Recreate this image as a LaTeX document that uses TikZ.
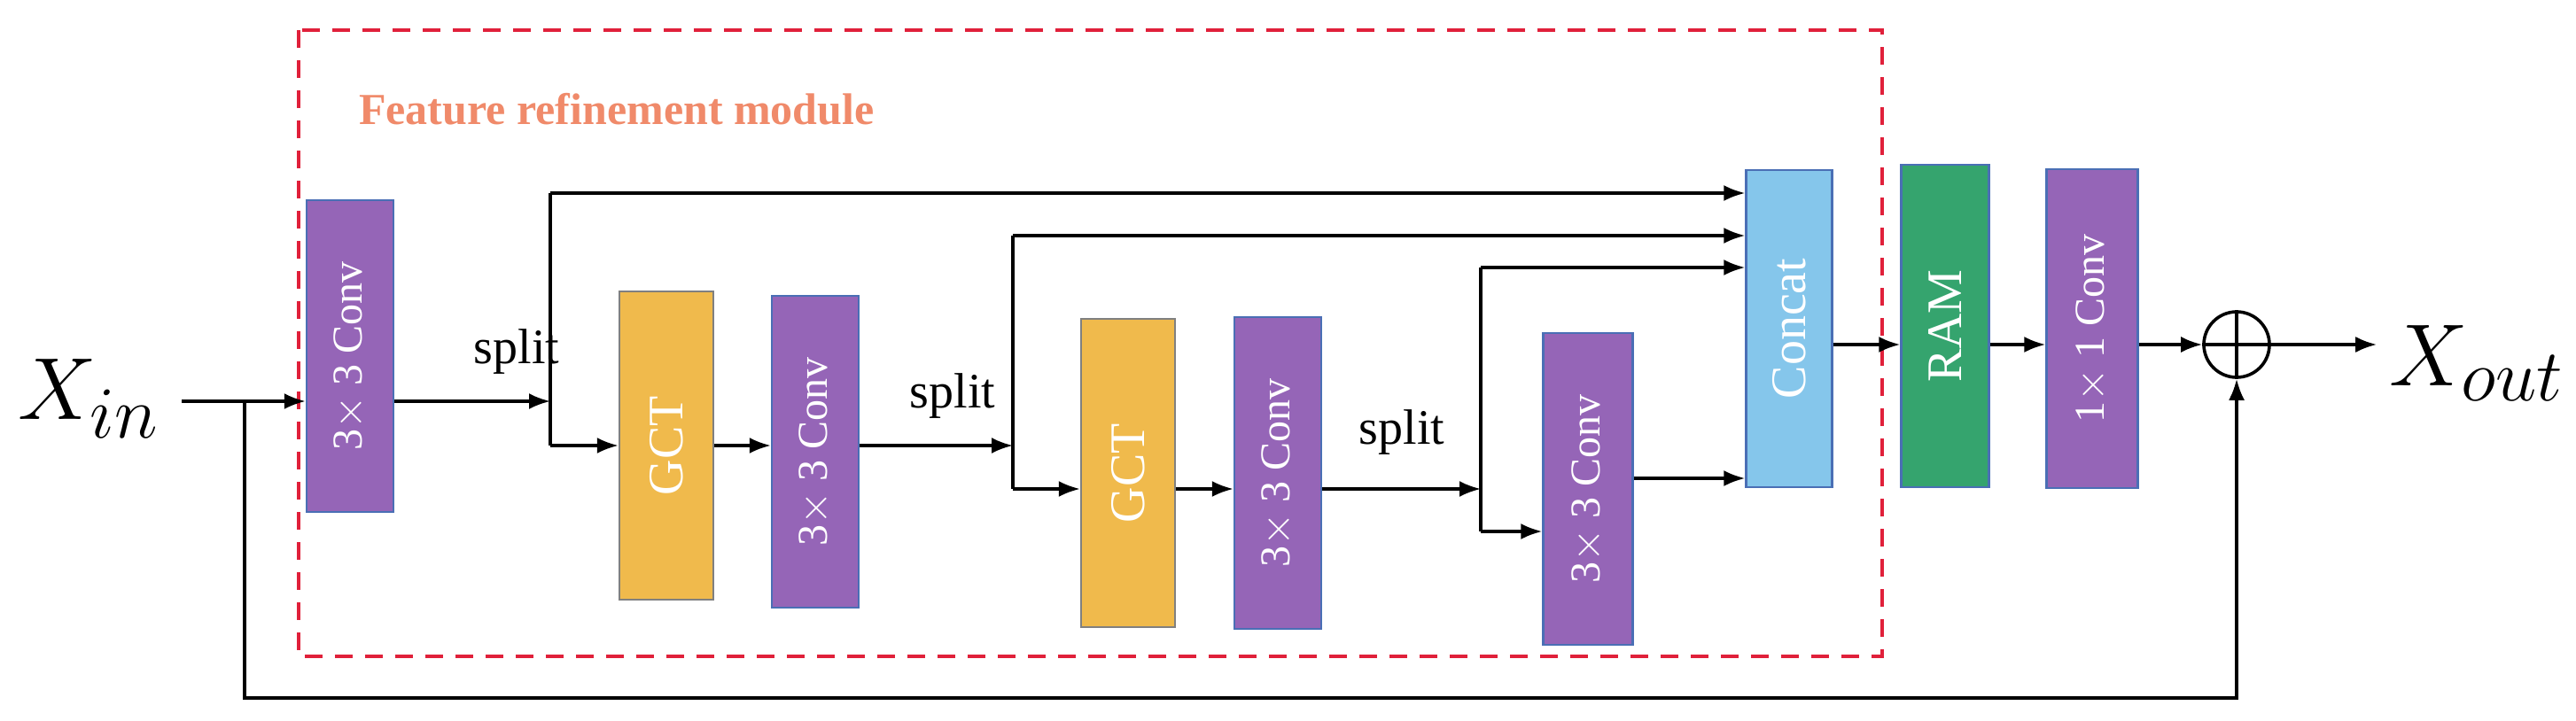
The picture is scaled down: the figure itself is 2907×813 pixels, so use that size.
\documentclass[tikz,border=0pt]{standalone}
\usepackage{fontspec}
\setmainfont{Liberation Serif}
\usetikzlibrary{arrows.meta}
\definecolor{cpurple}{HTML}{9565B7}
\definecolor{cborder}{HTML}{4A6FB5}
\definecolor{corange}{HTML}{F0BA4C}
\definecolor{cblue}{HTML}{85C6EB}
\definecolor{cgreen}{HTML}{35A46E}
\definecolor{cred}{HTML}{E0203A}
\definecolor{csalmon}{HTML}{F08A6A}
\begin{document}
\begin{tikzpicture}[x=0.25pt,y=-0.25pt,
  blk/.style={draw=cborder,line width=0.6pt,text=white,inner sep=0pt,
    font=\fontsize{12}{14}\selectfont},
  conv/.style={blk,fill=cpurple,minimum width=24.5pt,minimum height=88pt},
  gct/.style={blk,draw=gray,fill=corange,minimum width=26.5pt,minimum height=87pt,font=\fontsize{14}{16}\selectfont},
  arr/.style={line width=0.8pt,-{Latex[length=6pt,width=4.5pt]}},
  ln/.style={line width=0.8pt},
  lab/.style={font=\fontsize{14}{16}\selectfont}]
\useasboundingbox (0,0) rectangle (2907,813);
\draw[cred,line width=1.1pt,dash pattern=on 5pt off 3.5pt] (337,34) rectangle (2124,741);
\node[font=\bfseries\fontsize{12.5}{14}\selectfont,text=csalmon,anchor=west] (title) at (391,123) {Feature refinement module};

\node (xin) at (100,450) {\fontsize{29}{32}\selectfont$X_{in}$};
\node (xout) at (2795,410) {\fontsize{29}{32}\selectfont$X_{out}$};

\node[conv] (c1) at (395,402) {\rotatebox{90}{3$\times$ 3 Conv}};
\node[gct] (g1) at (752,503) {\rotatebox{90}{GCT}};
\node[conv] (c2) at (920,510) {\rotatebox{90}{3$\times$ 3 Conv}};
\node[gct] (g2) at (1273,534) {\rotatebox{90}{GCT}};
\node[conv] (c3) at (1442,534) {\rotatebox{90}{3$\times$ 3 Conv}};
\node[conv,minimum width=25.25pt] (c4) at (1792,552) {\rotatebox{90}{3$\times$ 3 Conv}};
\node[blk,fill=cblue,draw=cborder,minimum width=24.25pt,minimum height=89.5pt,font=\fontsize{14}{16}\selectfont] (cat) at (2019,371) {\rotatebox{90}{Concat}};
\node[blk,fill=cgreen,minimum width=24.75pt,minimum height=91pt,font=\fontsize{14}{16}\selectfont] (ram) at (2195,368) {\rotatebox{90}{RAM}};
\node[conv,minimum width=25.75pt,minimum height=90pt] (c5) at (2361,371) {\rotatebox{90}{1$\times$ 1 Conv}};
\node[circle,draw=black,line width=0.9pt,minimum size=18.5pt,inner sep=0pt] (op) at (2524,389) {};
\draw[line width=0.9pt] (op.north) -- (op.south) (op.west) -- (op.east);

\node[lab] (sp1) at (583,397) {split};
\node[lab] (sp2) at (1075,447) {split};
\node[lab] (sp3) at (1582,488) {split};

\coordinate (in) at (205,453);
\coordinate (j0) at (276,453);
\coordinate (s1) at (621,453);
\coordinate (s1t) at (621,218);
\coordinate (s1b) at (621,503);
\coordinate (s2) at (1143,503);
\coordinate (s2t) at (1143,266);
\coordinate (s2b) at (1143,552);
\coordinate (s3) at (1671,552);
\coordinate (s3t) at (1671,302);
\coordinate (s3b) at (1671,600);

\draw[arr] (in) -- (c1.west |- in);
\draw[arr] (j0) -- (276,788) -- (op.south |- 0,788) -- (op.south);
\draw[arr] (c1.east |- s1) -- (s1);
\draw[ln] (s1t) -- (s1b);
\draw[arr] (s1t) -- (cat.west |- s1t);
\draw[arr] (s1b) -- (g1.west |- s1b);
\draw[arr] (g1.east |- s1b) -- (c2.west |- s1b);
\draw[arr] (c2.east |- s2) -- (s2);
\draw[ln] (s2t) -- (s2b);
\draw[arr] (s2t) -- (cat.west |- s2t);
\draw[arr] (s2b) -- (g2.west |- s2b);
\draw[arr] (g2.east |- s2b) -- (c3.west |- s2b);
\draw[arr] (c3.east |- s3) -- (s3);
\draw[ln] (s3t) -- (s3b);
\draw[arr] (s3t) -- (cat.west |- s3t);
\draw[arr] (s3b) -- (c4.west |- s3b);
\draw[arr] (c4.east |- 0,540) -- (cat.west |- 0,540);
\draw[arr] (cat.east |- op) -- (ram.west |- op);
\draw[arr] (ram.east |- op) -- (c5.west |- op);
\draw[arr] (c5.east |- op) -- (op.west);
\draw[arr] (op.east) -- (xout.west |- op);
\end{tikzpicture}
\end{document}
